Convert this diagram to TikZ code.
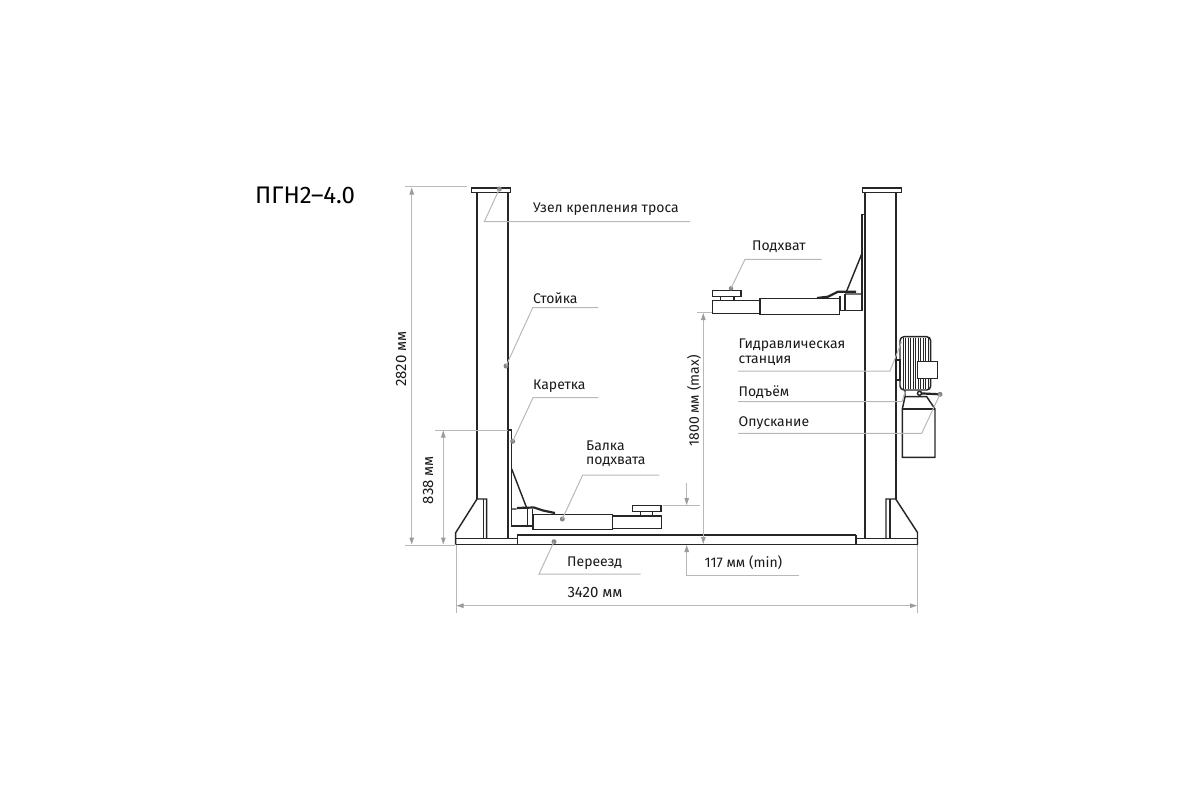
\documentclass[tikz,border=0pt]{standalone}
\usepackage{fontspec}
\setmainfont{Fira Sans}
\usetikzlibrary{arrows.meta}
\definecolor{leadgray}{HTML}{B8B8B8}
\definecolor{dotgray}{HTML}{858585}
\definecolor{inkgray}{HTML}{262626}
\tikzset{
  part/.style={draw=inkgray,line width=1.45pt,line join=miter},
  thick part/.style={draw=inkgray,line width=2.2pt},
  leader/.style={draw=leadgray,line width=1pt},
  dim/.style={draw=leadgray,line width=1pt,-{Triangle[length=7pt,width=4.5pt,color=leadgray!85!black]}},
  dimboth/.style={draw=leadgray,line width=1pt,{Triangle[length=7pt,width=4.5pt,color=leadgray!85!black]}-{Triangle[length=7pt,width=4.5pt,color=leadgray!85!black]}},
  ext/.style={draw=leadgray,line width=1pt},
  dot/.style={circle,fill=dotgray,inner sep=0pt,minimum size=5pt},
  lab/.style={anchor=west,inner sep=0pt,font=\fontsize{14}{14}\selectfont,text=black!90,align=left},
  dimlab/.style={inner sep=0pt,font=\fontsize{15}{15}\selectfont,text=black!90},
}
\begin{document}
\begin{tikzpicture}[x=1pt,y=-1pt]
  \useasboundingbox (0,0) rectangle (1200,800);
  \node[anchor=west,inner sep=0pt,font=\fontsize{24}{24}\selectfont](TITLE) at (255,195){ПГН2--4.0};
  % ramp and bases
  \draw[part] (517.3,544.5) -- (517.3,535) (856,544.5) -- (856,535);
  \draw[thick part] (517.3,535) -- (856,535);
  \draw[part,line width=1.7pt] (455.7,544.5) -- (917.5,544.5);
  \draw[part] (455.7,544.5) -- (455.7,532.7) -- (477,499) -- (486.7,499) -- (486.7,538.7);
  \draw[part] (483.3,499) -- (483.3,538.7) (455.7,538.7) -- (517.3,538.7);
  \draw[part] (917.5,544.5) -- (917.5,532.5) -- (895.7,499) -- (886,499) -- (886,538.7);
  \draw[part] (890,499) -- (890,538.7) (856,538.7) -- (917.5,538.7);
  % columns
  \draw[part,line width=1.6pt] (477,192.3) -- (477,499) (508,192.3) -- (508,538.7);
  \draw[part,line width=1.6pt] (865,192.3) -- (865,538.7) (895.7,192.3) -- (895.7,499);
  \draw[part,fill=white] (471.6,187.8) rectangle (510.7,192.3);
  \draw[part,fill=white] (862.7,187.8) rectangle (901.7,192.3);
  % lower carriage
  \draw[part] (508,430) -- (511.7,430) -- (511.7,526) -- (527.3,526);
  \draw[part] (511.7,469) -- (526.7,508) (511.7,509) -- (516.7,509);
  \draw[part] (527.3,508) -- (527.3,526) (532.7,509) -- (532.7,526) -- (527.3,526);
  \draw[thick part] (517,508) -- (534,507.5) -- (543,510.5) -- (555,513);
  \draw[part,fill=white,line width=1.5pt] (533,514.3) rectangle (612.3,529.3);
  \draw[part] (612.3,516) -- (661.3,516) -- (661.3,528.3) -- (612.3,528.3);
  \draw[part] (632.7,505.7) rectangle (661,511.7);
  \draw[part] (640.7,511.7) -- (640.7,516) (652.7,511.7) -- (652.7,516);
  % upper carriage
  \draw[part] (865,214.3) -- (862,214.3) -- (862,310.7) -- (845,310.7);
  \draw[part] (862,253.3) -- (846.7,291) (862,294) -- (845,294);
  \draw[part] (845,294) -- (845,310.7) (840,296) -- (840,310.7) -- (845,310.7);
  \draw[thick part] (856,291.7) -- (838,291.7) -- (828,296.7) -- (817,298);
  \draw[part,fill=white,line width=1.5pt] (760,298.7) rectangle (839.7,314.7);
  \draw[part] (760,300.7) -- (712.3,300.7) -- (712.3,313.3) -- (760,313.3);
  \draw[part] (712.3,290.7) rectangle (741,296.7);
  \draw[part] (720.7,296.7) -- (720.7,300.7) (734,296.7) -- (734,300.7);
  % pump station
  \draw[part] (895.7,360) rectangle (900,380);
  \foreach \ribx in {903,905.5,908,910.5,913,915.5,918,920.5,923,925.5,928}
    \draw[part,line width=1pt] (\ribx,337.5) -- (\ribx,389);
  \draw[part,rounded corners=4pt] (900,336.7) rectangle (930.7,390);
  \draw[part,fill=white] (917.7,361.7) rectangle (937.3,378.3);
  \draw[part] (905,390) -- (905,396.7) (905,396.7) -- (926.7,396.7) -- (935,409) -- (935,457.3) -- (902.3,457.3) -- (902.3,409) -- (905,396.7);
  \draw[thick part] (902.3,409.3) -- (935,409.3);
  \draw[thick part] (919.3,393.3) -- (940,394.3);
  \draw[part,fill=white] (919.5,393.3) circle (2pt);
  % dimensions
  \coordinate(TOPL) at (405,186.7); \coordinate(TOPR) at (466.7,186.7);
  \coordinate(BOTL) at (405,545); \coordinate(BOTR) at (455,545);
  \draw[ext] (TOPL) -- (TOPR) (BOTL) -- (BOTR);
  \draw[dimboth] (411.7,187.5) -- (411.7,544.5);
  \node[rotate=90,dimlab](H2820) at (401,359){2820 мм};
  \draw[ext] (435,430) -- (508,430);
  \draw[dimboth] (443.3,430.5) -- (443.3,544.5);
  \node[rotate=90,dimlab](H838) at (428,480){838 мм};
  \draw[ext] (697,312.5) -- (712,312.5);
  \draw[dimboth] (703.3,313) -- (703.3,544);
  \node[rotate=90,lab,anchor=center](H1800) at (694,401){1800 мм (max)};
  \draw[ext] (663,505) -- (700,505);
  \draw[dim] (686.7,483) -- (686.7,505);
  \coordinate(MINEND) at (799.3,575.7); \coordinate(MINKNEE) at (686.7,575.7);
  \draw[ext] (MINEND) -- (MINKNEE);
  \draw[dim] (MINKNEE) -- (686.7,545);
  \node[lab](H117) at (704.5,563){117 мм (min)};
  \draw[ext] (456,545) -- (456,613) (917.5,545) -- (917.5,613);
  \draw[dimboth] (456.5,605.7) -- (917,605.7);
  \node[dimlab](W3420) at (595,592){3420 мм};
  % leaders
  \node[dot](UZELd) at (499.3,189){};
  \node[lab](UZEL) at (533,209.5){Узел крепления троса};
  \draw[leader] (UZELd.center) -- (484.3,221.7) -- (690,221.7);
  \node[dot](STOJd) at (506,366){};
  \node[lab](STOJ) at (533,298.5){Стойка};
  \draw[leader] (STOJd.center) -- (532.7,307.7) -- (598.3,307.7);
  \node[dot](KARd) at (512.7,441.3){};
  \node[lab](KAR) at (533,386){Каретка};
  \draw[leader] (KARd.center) -- (533,397.7) -- (598.3,397.7);
  \node[dot](BALd) at (562.3,519){};
  \node[lab,font=\fontsize{14}{14.5}\selectfont](BAL) at (586,453.5){Балка\\подхвата};
  \draw[leader] (BALd.center) -- (582.7,475) -- (659.3,475);
  \node[dot](PERd) at (554,541.7){};
  \node[lab](PER) at (567,563.5){Переезд};
  \draw[leader] (PERd.center) -- (539,574) -- (640.7,574);
  \node[dot,minimum size=4.5pt](PODd) at (731,288.3){};
  \node[lab](POD) at (752,246.5){Подхват};
  \draw[leader] (PODd.center) -- (745,259.3) -- (821.7,259.3);
  \node[lab,font=\fontsize{14}{14.5}\selectfont](GID) at (738.5,352){Гидравлическая\\станция};
  \coordinate(GIDa) at (901.7,341.7);
  \draw[leader] (GIDa) -- (890,371) -- (738,371);
  \node[lab](UP) at (738.5,392){Подъём};
  \draw[leader] (905,392) -- (902,401.5) -- (738,401.5);
  \node[dot](DOWNd) at (940,394.3){};
  \node[lab](DOWN) at (738.5,423){Опускание};
  \draw[leader] (DOWNd.center) -- (921.7,433.3) -- (738,433.3);
\end{tikzpicture}
\end{document}
